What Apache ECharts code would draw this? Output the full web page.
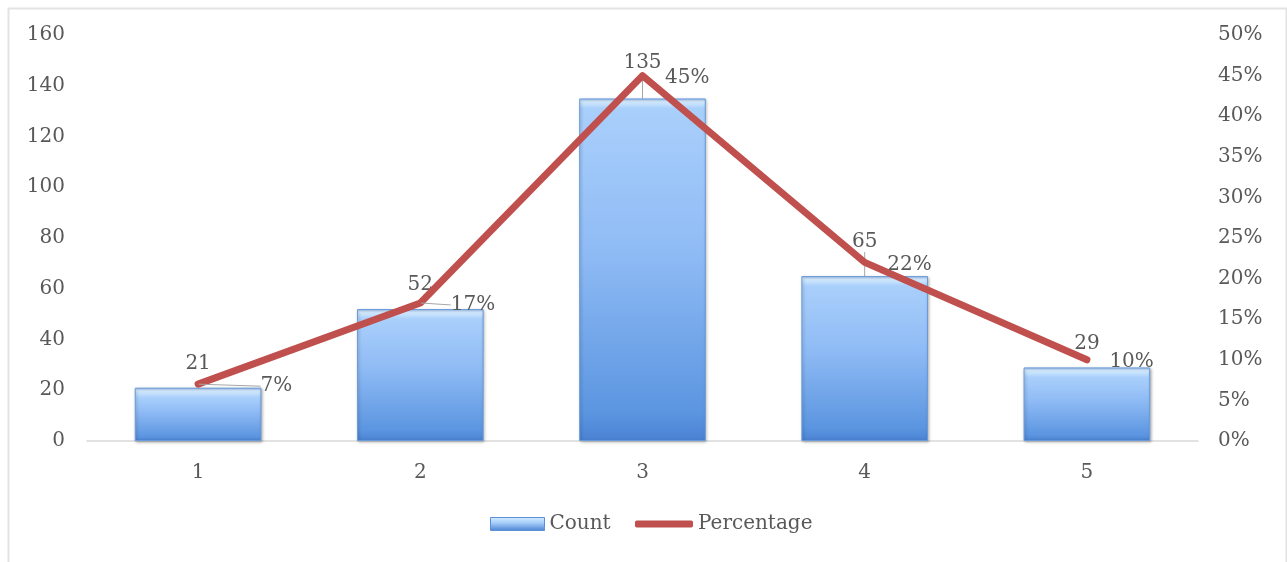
<!DOCTYPE html>
<html>
<head>
<meta charset="utf-8">
<style>
  html, body { margin: 0; padding: 0; background: #ffffff; }
  #chart { width: 1287px; height: 562px; }
</style>
<script src="https://cdn.jsdelivr.net/npm/echarts@6/dist/echarts.min.js"></script>
</head>
<body>
<div id="chart"></div>
<script>
// Rating categories and their counts / shares
const categories = ['1', '2', '3', '4', '5'];
const counts = [21, 52, 135, 65, 29];
const percentages = [0.07, 0.17, 0.45, 0.22, 0.10];

const textColor = '#595959';
const fontFamily = '"DejaVu Serif", "Liberation Serif", serif';
const lineRed = '#c0504d';

// Label nudges (px) and which labels get a leader line
const countLabelShift = [0, 0, -12, -10, 0];
const countLeader = [false, false, true, true, false];
const pctLabelShift = [40, 8, 0, 0, 0];
const pctLeader = [true, true, false, false, false];

const yMax = 160;
const plotHeight = 406;

// Bevelled bar fill: thin bright rim at the top, light-to-deep blue body
function barFill(value) {
  const h = Math.max(value / yMax * plotHeight, 1);
  const rim = Math.min(3 / h, 0.2);
  const band = Math.min(10 / h, 0.35);
  return new echarts.graphic.LinearGradient(0, 0, 0, 1, [
    { offset: 0, color: '#9cc4f5' },
    { offset: rim, color: '#d6ecff' },
    { offset: band, color: '#a9cffb' },
    { offset: Math.max(band, 0.45), color: '#8fbbf5' },
    { offset: 0.92, color: '#5b95e0' },
    { offset: 1, color: '#4a82d2' }
  ]);
}

const legendIconFill = new echarts.graphic.LinearGradient(0, 0, 0, 1, [
  { offset: 0, color: '#d6ecff' },
  { offset: 0.4, color: '#a9cffb' },
  { offset: 1, color: '#4a82d2' }
]);

const chart = echarts.init(document.getElementById('chart'), null, { renderer: 'canvas' });

chart.setOption({
  animation: false,
  textStyle: { fontFamily: fontFamily, color: textColor },
  graphic: [{
    type: 'rect',
    left: 6, top: 6,
    shape: { width: 1278, height: 600 },
    style: { fill: 'none', stroke: '#e3e3e3', lineWidth: 2 },
    silent: true
  }],
  grid: { left: 87, right: 89, top: 35, bottom: 121 },
  legend: [
    {
      left: 485,
      top: 509,
      itemWidth: 54,
      itemHeight: 13,
      textStyle: { fontFamily: fontFamily, fontSize: 20, color: textColor },
      data: [{
        name: 'Count', icon: 'rect',
        itemStyle: { color: legendIconFill, borderColor: '#5b8fd6', borderWidth: 1 }
      }]
    },
    {
      left: 630,
      top: 509,
      itemWidth: 58,
      itemHeight: 7,
      textStyle: { fontFamily: fontFamily, fontSize: 20, color: textColor },
      data: [{ name: 'Percentage', icon: 'roundRect', itemStyle: { color: lineRed } }]
    }
  ],
  xAxis: {
    type: 'category',
    data: categories,
    axisLine: { lineStyle: { color: '#d9d9d9', width: 1.5 } },
    axisTick: { show: false },
    axisLabel: { color: textColor, fontSize: 20, fontFamily: fontFamily, margin: 22 }
  },
  yAxis: [
    {
      type: 'value',
      min: 0, max: yMax, interval: 20,
      splitLine: { show: false },
      axisLine: { show: false },
      axisTick: { show: false },
      axisLabel: { color: textColor, fontSize: 20, fontFamily: fontFamily, margin: 22 }
    },
    {
      type: 'value',
      min: 0, max: 0.5, interval: 0.05,
      splitLine: { show: false },
      axisLine: { show: false },
      axisTick: { show: false },
      axisLabel: {
        color: textColor, fontSize: 20, fontFamily: fontFamily, margin: 20,
        formatter: v => Math.round(v * 100) + '%'
      }
    }
  ],
  series: [
    {
      name: 'Count',
      type: 'bar',
      data: counts.map((v, i) => ({
        value: v,
        itemStyle: { color: barFill(v) },
        labelLine: { show: countLeader[i] }
      })),
      barWidth: '57%',
      itemStyle: {
        color: '#8fbbf5',
        borderColor: '#6a9bdb',
        borderWidth: 1,
        shadowColor: 'rgba(0,0,0,0.3)',
        shadowBlur: 3,
        shadowOffsetX: 1,
        shadowOffsetY: 1
      },
      label: {
        show: true,
        position: 'top',
        distance: 14,
        offset: [-4, 0],
        fontSize: 20,
        fontFamily: fontFamily,
        color: textColor
      },
      labelLine: { show: true, lineStyle: { color: '#a6a6a6', width: 1 } },
      labelLayout: p => ({ dy: countLabelShift[p.dataIndex] }),
      z: 2
    },
    {
      name: 'Percentage',
      type: 'line',
      yAxisIndex: 1,
      data: percentages.map((v, i) => ({
        value: v,
        labelLine: { show: pctLeader[i] }
      })),
      symbol: 'circle',
      symbolSize: 1,
      showSymbol: true,
      itemStyle: { color: lineRed },
      lineStyle: { color: lineRed, width: 7, cap: 'round', join: 'round' },
      label: {
        show: true,
        position: 'right',
        distance: 22,
        fontSize: 20,
        fontFamily: fontFamily,
        color: textColor,
        formatter: p => Math.round(p.value * 100) + '%'
      },
      labelLine: { show: true, lineStyle: { color: '#a6a6a6', width: 1 } },
      labelLayout: p => ({ dx: pctLabelShift[p.dataIndex], dy: 2 }),
      z: 3
    }
  ]
});
</script>
</body>
</html>
